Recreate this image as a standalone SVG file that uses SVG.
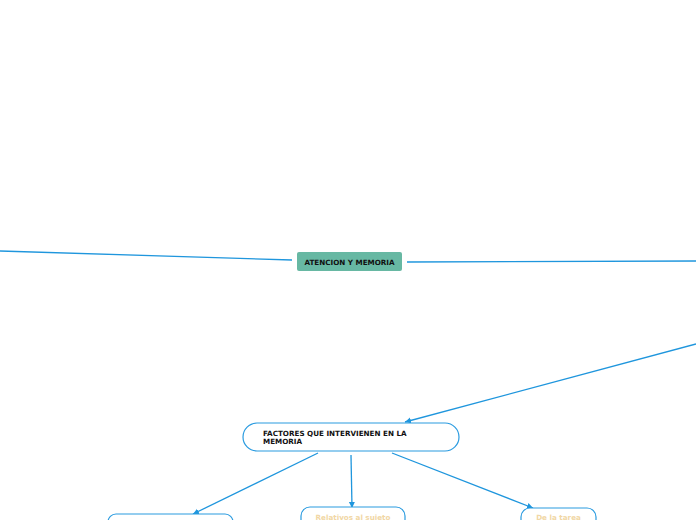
<svg xmlns="http://www.w3.org/2000/svg" width="696" height="520" viewBox="0 0 696 520">
<style>
.c{fill:none;stroke:#1f96dd;stroke-width:1.3}
.n{fill:#fff;stroke:#2a9be0;stroke-width:1.2}
.t{font-family:"DejaVu Sans",Verdana,sans-serif;font-weight:bold;font-size:7.2px;fill:#111}
.o{font-family:"DejaVu Sans",Verdana,sans-serif;font-weight:bold;font-size:7.2px;fill:#f1d7a5}
</style>
<defs>
<marker id="a" markerWidth="8" markerHeight="8" refX="6" refY="3" orient="auto" markerUnits="userSpaceOnUse">
<path d="M0,0 L6,3 L0,6 Z" fill="#1f96dd"/>
</marker>
</defs>
<rect width="696" height="520" fill="#fff"/>
<g id="connectors">
<path class="c" d="M0,251 L292,260"/>
<path class="c" d="M407,262 L696,261"/>
<path class="c" d="M696,344 L405,422" marker-end="url(#a)"/>
<path class="c" d="M318,453 L193,514" marker-end="url(#a)"/>
<path class="c" d="M351,455 L352,508" marker-end="url(#a)"/>
<path class="c" d="M392,453 L533,508" marker-end="url(#a)"/>
</g>
<g id="central">
<rect x="297" y="252" width="105" height="19" rx="2" fill="#67b8a3"/>
<text class="t" x="349.5" y="264.5" text-anchor="middle">ATENCION Y MEMORIA</text>
</g>
<g id="factores">
<rect class="n" x="243" y="423" width="216" height="28" rx="14"/>
<text class="t" x="263" y="436">FACTORES QUE INTERVIENEN EN LA</text>
<text class="t" x="263" y="444">MEMORIA</text>
</g>
<g id="left">
<rect class="n" x="108" y="514" width="125" height="30" rx="8"/>
</g>
<g id="sujeto">
<rect class="n" x="301" y="507" width="104" height="30" rx="9"/>
<text class="o" x="353" y="520" text-anchor="middle">Relativos al sujeto</text>
</g>
<g id="tarea">
<rect class="n" x="521" y="508" width="75" height="30" rx="9"/>
<text class="o" x="558.5" y="520" text-anchor="middle">De la tarea</text>
</g>
</svg>
